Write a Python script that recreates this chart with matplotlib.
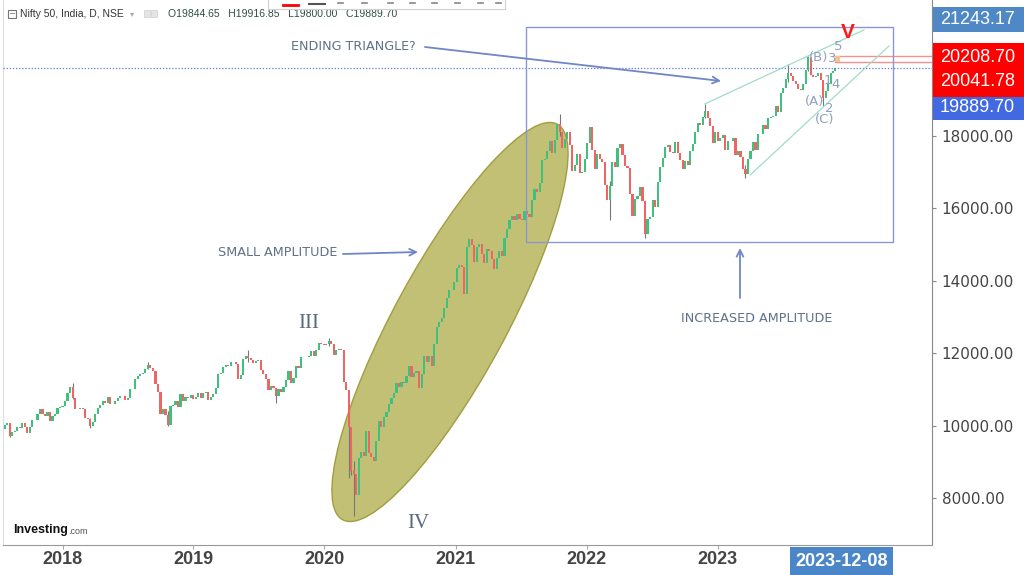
import pandas as pd
import matplotlib
matplotlib.use("Agg")
import matplotlib.pyplot as plt
import matplotlib.transforms as mtransforms
from matplotlib.patches import Ellipse, Rectangle

# Nifty 50 weekly closes (one value per Friday)
c2017 = [9915, 10014, 10066, 9710, 9837, 9857, 9974, 9935, 10085, 9964, 9789, 9979,
         10167, 10146, 10323, 10452, 10322, 10283, 10390, 10121, 10265, 10333, 10493, 10531]
c2018 = [10559, 10681, 10895, 11070, 10761, 10455, 10452, 10491, 10458, 10227, 10195, 9998, 10114,
         10332, 10481, 10565, 10692, 10618, 10807, 10596, 10605, 10696, 10768, 10818, 10822, 10714,
         10772, 11019, 11010, 11278, 11361, 11429, 11470, 11557, 11681, 11589, 11515, 11143, 10930,
         10316, 10473, 10303, 10030, 10553, 10585, 10682, 10526, 10877, 10694, 10805, 10754, 10859]
c2019 = [10728, 10795, 10907, 10780, 10894, 10944, 10724, 10792, 10864, 11036, 11427, 11457, 11624,
         11666, 11643, 11753, 11755, 11712, 11279, 11407, 11844, 11923, 11871, 11823, 11724, 11789,
         11811, 11552, 11419, 11284, 10997, 11110, 11048, 10829, 11023, 10946, 11076, 11274, 11512,
         11175, 11305, 11662, 11584, 11891, 11908, 11895, 11914, 12056, 11922, 12087, 12272, 12246]
c2020 = [12226, 12257, 12352, 12248, 11962, 12098, 12113, 12081, 11202, 10989, 9955, 8745, 8660,
         8084, 9112, 9267, 9154, 9860, 9252, 9137, 9039, 9580, 10142, 9972, 10244, 10383,
         10607, 10768, 10902, 11194, 11073, 11214, 11178, 11372, 11647, 11333, 11464, 11505, 11050,
         11417, 11914, 11762, 11930, 11642, 12264, 12720, 12859, 12969, 13258, 13514, 13761, 13749]
c2021 = [13982, 14347, 14433, 14372, 13635, 14924, 15163, 14982, 14529, 14938, 15031, 14744, 14507,
         14868, 14834, 14617, 14341, 14631, 14823, 14678, 15175, 15436, 15670, 15799, 15683, 15860,
         15722, 15690, 15924, 15856, 15763, 16238, 16529, 16451, 16705, 17324, 17369, 17585, 17853,
         17532, 17895, 18339, 18115, 17672, 17917, 18103, 17765, 17027, 17197, 17512, 16985, 17004, 17354]
c2022 = [17813, 18256, 17617, 17102, 17516, 17375, 17276, 16658, 16245, 16630, 17287, 17153,
         17670, 17784, 17476, 17172, 17103, 16411, 15782, 16266, 16352, 16584, 16202, 15294, 15699,
         15752, 16221, 16049, 16719, 17158, 17398, 17698, 17758, 17559, 17539, 17833, 17531, 17327, 17094,
         17315, 17186, 17576, 17787, 18117, 18350, 18308, 18512, 18697, 18497, 18269, 17806, 18105]
c2023 = [17860, 17957, 18028, 17604, 17854, 17856, 17944, 17466, 17594, 17413, 17100, 16945, 17360,
         17599, 17828, 17624, 18065, 18069, 18315, 18203, 18499, 18534, 18563, 18826, 18666, 19189,
         19332, 19565, 19745, 19646, 19517, 19428, 19310, 19266, 19435, 19820, 20192, 19674, 19638,
         19654, 19751, 19543, 19047, 19231, 19425, 19732, 19795]
block_starts = ["2017-07-21", "2018-01-05", "2019-01-04", "2020-01-03", "2021-01-01", "2022-01-07", "2023-01-06"]
last_day = "2023-11-28"
last_close = 19889.70

# weeks with long shadows (low, high)
wicks = {
    "2017-08-11": (9685, 10037), "2018-02-02": (10736, 11171), "2018-03-23": (9951, 10227),
    "2018-08-31": (11557, 11760), "2018-10-26": (10005, 10398), "2019-06-07": (11770, 12103),
    "2019-08-23": (10637, 11000), "2020-01-17": (12200, 12430), "2020-03-13": (8555, 10751),
    "2020-03-20": (8632, 9588), "2020-03-27": (7511, 9038), "2021-10-22": (18000, 18604),
    "2022-03-11": (15671, 16758), "2022-06-17": (15183, 15886), "2022-12-02": (18500, 18888),
    "2023-03-24": (16828, 17207), "2023-07-21": (19500, 19991), "2023-09-15": (19800, 20222),
    "2023-10-27": (18837, 19350),
}

yticks = [8000, 10000, 12000, 14000, 16000, 18000]
years = [2018, 2019, 2020, 2021, 2022, 2023]
price_tags = [("21243.17", "#4f88c6"), ("20208.70", "#ff0000"), ("20041.78", "#ff0000"), ("19889.70", "#4169e1")]
level_red = [20208.70, 20041.78]

dates, closes = [], []
for s, blk in zip(block_starts, [c2017, c2018, c2019, c2020, c2021, c2022, c2023]):
    dates += list(pd.date_range(s, periods=len(blk), freq="W-FRI"))
    closes += blk
dates.append(pd.Timestamp(last_day))
closes.append(last_close)
opens = [closes[0]] + closes[:-1]

W, H = 1024, 575
fig = plt.figure(figsize=(W / 100, H / 100), dpi=100)
ax = fig.add_axes([3 / W, 30 / H, 929 / W, 545 / H])
pix = mtransforms.Affine2D().scale(1 / 100, -1 / 100).translate(0, H / 100) + fig.dpi_scale_trans

# ellipse behind the candles
ax.add_patch(Ellipse((450, 322), 450, 112, angle=-61.5, transform=pix,
                     fc="#bfbd6c", ec="#9e9a3c", lw=1, alpha=0.95, zorder=1))

up = [c >= o for o, c in zip(opens, closes)]
body_col = ["#3fc07c" if u else "#f06464" for u in up]
ax.bar(dates, [c - o if c != o else 8 for o, c in zip(opens, closes)], bottom=opens,
       width=6, color=body_col, linewidth=0, zorder=3)
for d, (lo, hi) in wicks.items():
    ax.vlines(pd.Timestamp(d), lo, hi, color="#777", lw=0.8, zorder=2)

# current price / levels
ax.axhline(last_close, color="#5a7be0", lw=0.9, ls=(0, (1, 1.5)), zorder=4)
for v in level_red:
    ax.plot([pd.Timestamp("2023-11-28"), pd.Timestamp("2024-08-25")], [v, v], color="#f39090", lw=1, zorder=4)
ax.add_patch(Rectangle((835, 56), 5, 6, transform=pix, fc="#f7c38e", ec="none", zorder=5))

# triangle trend lines
ax.plot([pd.Timestamp("2022-12-01"), pd.Timestamp("2024-02-17")], [18887, 20927], color="#9fdcc8", lw=0.9, zorder=4)
ax.plot([pd.Timestamp("2023-04-06"), pd.Timestamp("2024-04-27")], [16923, 20485], color="#9fdcc8", lw=0.9, zorder=4)

ax.set_xlim(pd.Timestamp("2017-07-23"), pd.Timestamp("2024-08-25"))
ax.set_ylim(6708, 21755)

ax.yaxis.tick_right()
ax.set_yticks(yticks)
ax.set_yticklabels([f"{v:.2f}" for v in yticks])
ax.tick_params(axis="y", labelsize=11, labelcolor="#444", color="#888", length=3, pad=4)
ax.set_xticks([pd.Timestamp(f"{y}-01-05") for y in years])
ax.set_xticklabels([str(y) for y in years], fontfamily="Liberation Sans", fontweight="bold",
                   fontsize=13, color="#444")
ax.tick_params(axis="x", color="#aaa", length=3, pad=1)
ax.spines["top"].set_visible(False)
ax.spines["left"].set_color("#dddddd")
ax.spines["right"].set_color("#888888")
ax.spines["bottom"].set_color("#999999")

# annotation box and arrows
ax.add_patch(Rectangle((526, 27), 367, 215, transform=pix, fill=False, ec="#8b98d0", lw=1, zorder=5))
arrow = dict(arrowstyle="->", color="#7086c6", lw=1.3, shrinkA=0, shrinkB=0, mutation_scale=12)
for (x0, y0), (x1, y1) in [((425, 47), (721, 81)), ((343, 254), (418, 252)), ((740, 298), (740, 248))]:
    ax.annotate("", xy=(x1, y1), xycoords=pix, xytext=(x0, y0), textcoords=pix,
                arrowprops=arrow, annotation_clip=False, zorder=6)

note = dict(transform=pix, color="#5f7189", fontsize=9.2, ha="center", va="center")
fig.text(353, 46, "ENDING TRIANGLE?", **note)
fig.text(278, 253, "SMALL AMPLITUDE", **note)
fig.text(757, 319, "INCREASED AMPLITUDE", **note)

roman = dict(transform=pix, color="#5a6b7f", fontsize=15, family="Liberation Serif", ha="center", va="center")
fig.text(309, 324, "III", **roman)
fig.text(418, 523, "IV", **roman)
fig.text(848, 32, "V", transform=pix, color="#ff1a1a", fontsize=15, family="Liberation Sans",
         fontweight="bold", ha="center", va="center")

wave = dict(transform=pix, color="#8fa0bf", fontsize=9.5, ha="center", va="center", zorder=7)
for x, y, s in [(819, 58, "(B)"), (832, 58, "3"), (838, 47, "5"), (828, 80, "1"), (836, 85, "4"),
                (815, 101, "(A)"), (829, 108, "2"), (825, 119, "(C)")]:
    fig.text(x, y, s, **wave)

# right price tags
tag_boxes = [(7, 25, 19.5), (43, 27, 57), (70, 27, 82), (97, 23, 108)]
for (txt, col), (top, hgt, yc) in zip(price_tags, tag_boxes):
    fig.patches.append(Rectangle((933, top), 91, hgt, transform=pix, fc=col, ec="none"))
    fig.text(940, yc, txt, transform=pix, color="white", fontsize=13, family="Liberation Sans",
             ha="left", va="center")

# date tag on x axis
fig.patches.append(Rectangle((790, 547), 103, 28, transform=pix, fc="#4a86c8", ec="none", zorder=5))
fig.text(841.5, 561, "2023-12-08", transform=pix, color="white", fontsize=13, family="Liberation Sans",
         fontweight="bold", ha="center", va="center", zorder=6)

# header
fig.patches.append(Rectangle((8, 10), 8, 8, transform=pix, fill=False, ec="#777", lw=0.8))
fig.text(12, 14, "−", transform=pix, color="#777", fontsize=6, ha="center", va="center")
fig.text(20, 14, "Nifty 50, India, D, NSE", transform=pix, color="#333", fontsize=7.5,
         family="Liberation Sans", ha="left", va="center")
fig.text(132, 14, "▾", transform=pix, color="#aaa", fontsize=6, ha="center", va="center")
for x in (144, 151):
    fig.patches.append(Rectangle((x, 10), 6, 7, transform=pix, fc="#e4e4e4", ec="#cfcfcf", lw=0.5))
fig.text(168, 14, "O19844.65   H19916.85   L19800.00   C19889.70", transform=pix, color="#2f4f45",
         fontsize=7.5, family="Liberation Sans", ha="left", va="center")

# toolbar peeking in at the top
fig.patches.append(Rectangle((268, -4), 237, 13, transform=pix, fc="white", ec="#d0d0d0", lw=0.8, zorder=8))
fig.lines.append(plt.Line2D([283, 298], [5, 5], transform=pix, color="red", lw=2, zorder=9))
fig.lines.append(plt.Line2D([309, 325], [4, 4], transform=pix, color="#555", lw=1.5, zorder=9))
for x in (338, 362, 388, 410, 432, 455, 478, 496):
    fig.lines.append(plt.Line2D([x, x + 5], [3, 3], transform=pix, color="#888", lw=1.2, zorder=9))

# logo
fig.text(13, 530, "Investing", transform=pix, color="#111", fontsize=9, fontweight="bold",
         family="Liberation Sans", ha="left", va="center")
fig.text(68, 532, ".com", transform=pix, color="#555", fontsize=6.5, family="Liberation Sans",
         ha="left", va="center")

fig.savefig("out.png", dpi=100)
